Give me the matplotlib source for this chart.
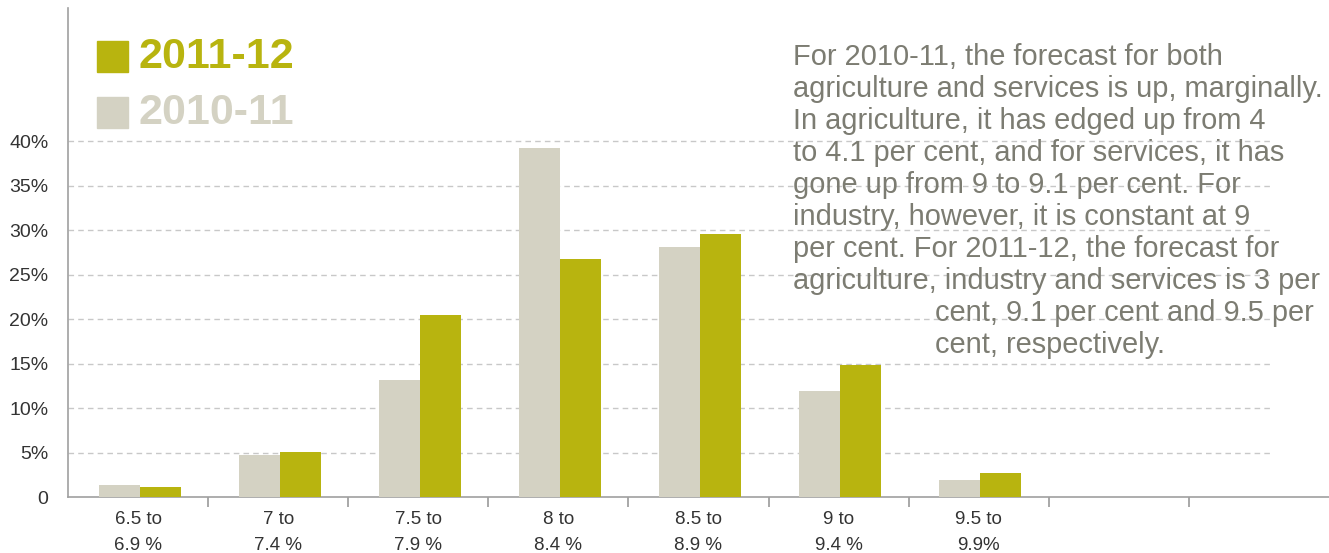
import matplotlib.pyplot as plt
import numpy as np
from matplotlib.ticker import FixedLocator

# Data (per cent of forecasters)
categories = ["6.5 to\n6.9 %", "7 to\n7.4 %", "7.5 to\n7.9 %", "8 to\n8.4 %",
              "8.5 to\n8.9 %", "9 to\n9.4 %", "9.5 to\n9.9%", "", ""]
values_2010 = [1.3, 4.7, 13.2, 39.3, 28.1, 11.9, 1.95]
values_2011 = [1.1, 5.1, 20.5, 26.8, 29.6, 14.9, 2.7]
y_ticks = [0, 5, 10, 15, 20, 25, 30, 35, 40]
y_tick_labels = ["0", "5%", "10%", "15%", "20%", "25%", "30%", "35%", "40%"]
series_names = ["2011-12", "2010-11"]

note_lines = [
    "For 2010-11, the forecast for both",
    "agriculture and services is up, marginally.",
    "In agriculture, it has edged up from 4",
    "to 4.1 per cent, and for services, it has",
    "gone up from 9 to 9.1 per cent. For",
    "industry, however, it is constant at 9",
    "per cent. For 2011-12, the forecast for",
    "agriculture, industry and services is 3 per",
]
note_indented = ["cent, 9.1 per cent and 9.5 per", "cent, respectively."]

olive = "#b8b40f"
grey = "#d4d2c3"
text_grey = "#7c7c72"
plt.rcParams["font.family"] = ["Liberation Sans", "DejaVu Sans"]

W, H = 1329, 553
fig = plt.figure(figsize=(W / 100, H / 100), dpi=100)
ax = fig.add_axes([68 / W, (H - 497) / H, (1329 - 68) / W, (497 - 8) / H])

n = len(categories)
x = np.arange(n)
bw = 0.293
shift = 0.012
ax.bar(x[:len(values_2010)] - bw / 2 + shift, values_2010, width=bw, color=grey, zorder=3)
ax.bar(x[:len(values_2011)] + bw / 2 + shift, values_2011, width=bw, color=olive, zorder=3)

ax.set_xlim(-0.5, n - 0.5)
ax.set_ylim(0, 55)

# dashed gridlines that stop short of the right edge
for yv in y_ticks[1:]:
    ax.axhline(yv, xmin=0, xmax=(1272 - 68) / (1329 - 68), color="#c8c8c8",
               linestyle=(0, (4, 3)), linewidth=1, zorder=1)

ax.set_yticks(y_ticks)
ax.set_yticklabels(y_tick_labels, fontsize=14, color="#333333")
ax.tick_params(axis="y", length=0, pad=14)

ax.set_xticks(x)
ax.set_xticklabels(categories, fontsize=13.5, color="#333333", linespacing=1.7)
ax.tick_params(axis="x", which="major", length=0, pad=10)
ax.xaxis.set_minor_locator(FixedLocator(np.arange(0.5, n - 1, 1.0)))
ax.tick_params(axis="x", which="minor", length=7, color="#999999", width=1.2)

for s in ["top", "right"]:
    ax.spines[s].set_visible(False)
ax.spines["left"].set_color("#a0a0a0")
ax.spines["bottom"].set_color("#a0a0a0")
ax.spines["left"].set_linewidth(1.2)
ax.spines["bottom"].set_linewidth(1.2)

# legend drawn as squares + bold labels
fig.patches.append(plt.Rectangle((97 / W, 1 - 72 / H), 31 / W, 31 / H,
                                 transform=fig.transFigure, color=olive))
fig.patches.append(plt.Rectangle((97 / W, 1 - 128 / H), 31 / W, 31 / H,
                                 transform=fig.transFigure, color=grey))
fig.text(138 / W, 1 - 57 / H, series_names[0], fontsize=31, fontweight="bold",
         color=olive, va="center", ha="left")
fig.text(138 / W, 1 - 113 / H, series_names[1], fontsize=31, fontweight="bold",
         color=grey, va="center", ha="left")

# explanatory note
for i, line in enumerate(note_lines):
    fig.text(793 / W, 1 - (57 + 32 * i) / H, line, fontsize=20.9,
             color=text_grey, va="center", ha="left")
for j, line in enumerate(note_indented):
    fig.text(935 / W, 1 - (57 + 32 * (len(note_lines) + j)) / H, line,
             fontsize=20.9, color=text_grey, va="center", ha="left")

fig.savefig("out.png", dpi=100)
